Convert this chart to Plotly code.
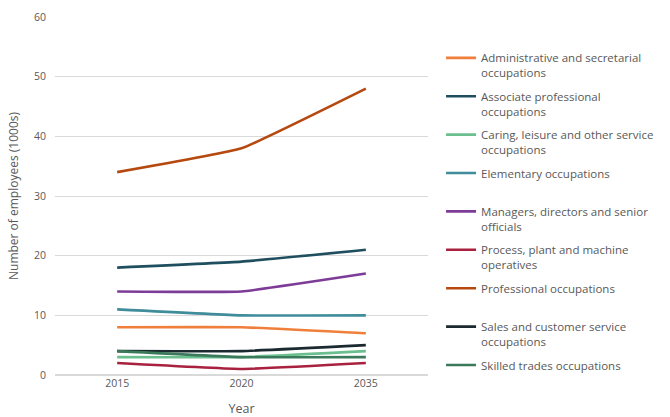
import plotly.graph_objects as go

# Employment by occupation group (thousands of employees)
years = ["2015", "2020", "2035"]

occupations = [
    "Administrative and secretarial<br>occupations",
    "Associate professional<br>occupations",
    "Caring, leisure and other service<br>occupations",
    "Elementary occupations<br> ",
    "Managers, directors and senior<br>officials",
    "Process, plant and machine<br>operatives",
    "Professional occupations<br> ",
    "Sales and customer service<br>occupations",
    "Skilled trades occupations",
]

admin = [8, 8, 7]
associate = [18, 19, 21]
caring = [3, 3, 4]
elementary = [11, 10, 10]
managers = [14, 14, 17]
process = [2, 1, 2]
professional = [34, 38, 48]
sales = [4, 4, 5]
skilled = [4, 3, 3]

series = [admin, associate, caring, elementary, managers, process,
          professional, sales, skilled]

colors = ["#F07F3B", "#1F4E5F", "#6BBF8E", "#3F8C9A", "#7D3C98",
          "#A8213F", "#B5490F", "#1B2A30", "#3A7A5A"]

fig = go.Figure()
for i, (name, vals, col) in enumerate(zip(occupations, series, colors)):
    fig.add_trace(go.Scatter(
        x=years, y=vals, name=name, mode="lines", legendgroup=f"g{i}",
        line=dict(color=col, width=2.6, shape="spline", smoothing=0.3),
    ))

font_family = "'Open Sans', sans-serif"
grey = "#595959"

fig.update_layout(
    width=670, height=417,
    margin=dict(l=55, r=242, t=17, b=42, autoexpand=False),
    paper_bgcolor="white", plot_bgcolor="white",
    font=dict(family=font_family, color=grey, size=11),
    showlegend=True,
    legend=dict(
        x=1.035, y=0.925, xanchor="left", yanchor="top",
        valign="top", itemwidth=30, tracegroupgap=5.5,
        font=dict(size=11.5, color=grey),
        traceorder="grouped",
    ),
    xaxis=dict(
        type="category", range=[-0.5, 2.5], automargin=False,
        showgrid=False, showline=False, zeroline=False,
        ticks="", tickfont=dict(size=10.5, color=grey),
        title=dict(text="Year", font=dict(size=12.5, color=grey), standoff=17),
    ),
    yaxis=dict(
        range=[0, 60], dtick=10, showgrid=True, gridcolor="#D9D9D9",
        gridwidth=1, zeroline=True, zerolinecolor="#D9D9D9", automargin=False,
        showline=False, ticks="", tickfont=dict(size=10.5, color=grey),
        ticklabelstandoff=8,
        title=dict(text="Number of employees (1000s)",
                   font=dict(size=12, color=grey), standoff=12),
    ),
)

fig.write_html("out.html")
